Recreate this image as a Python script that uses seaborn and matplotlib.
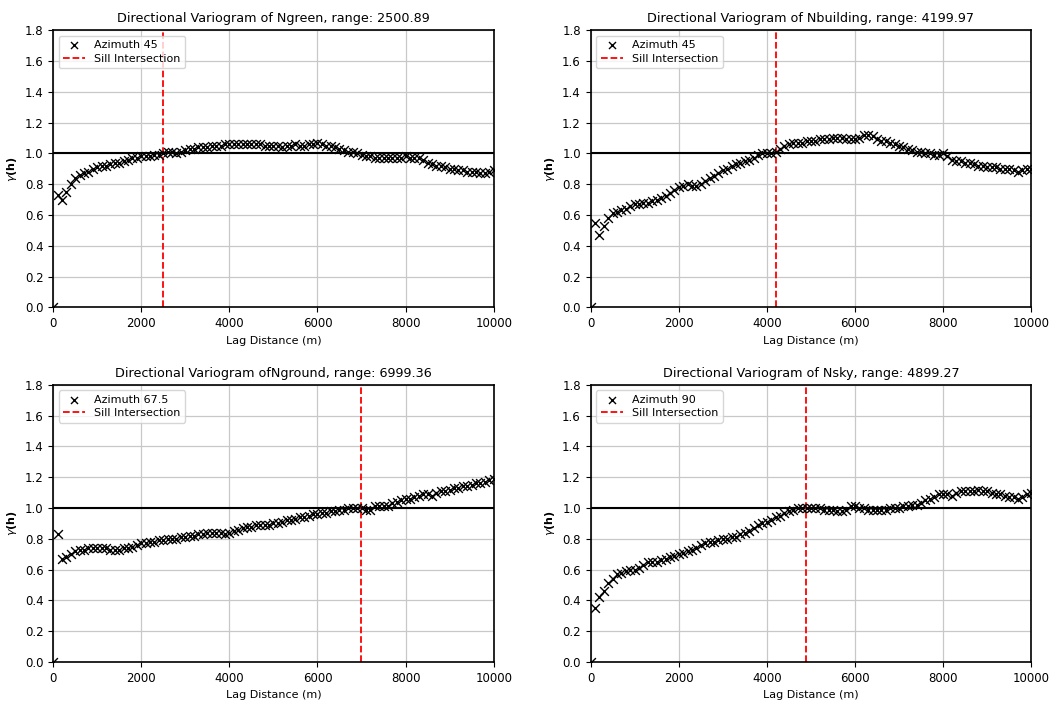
import matplotlib
matplotlib.use("Agg")
import matplotlib.pyplot as plt
import seaborn as sns
import numpy as np
import pandas as pd

# lag bins (m), one every 100 m
lags = list(range(0, 10001, 100))

gamma_green = [
    0.00, 0.73, 0.70, 0.75, 0.80, 0.84, 0.86, 0.87, 0.88, 0.90, 0.91,
    0.92, 0.92, 0.93, 0.94, 0.94, 0.95, 0.96, 0.97, 0.97, 0.98,
    0.98, 0.98, 0.99, 0.99, 1.00, 1.01, 1.01, 1.00, 1.01, 1.02,
    1.03, 1.03, 1.04, 1.04, 1.04, 1.05, 1.05, 1.05, 1.06, 1.06,
    1.06, 1.06, 1.06, 1.06, 1.06, 1.06, 1.06, 1.05, 1.05, 1.05,
    1.05, 1.04, 1.05, 1.05, 1.06, 1.05, 1.05, 1.06, 1.06, 1.07,
    1.06, 1.05, 1.05, 1.04, 1.03, 1.02, 1.01, 1.01, 1.00, 0.99,
    0.98, 0.98, 0.97, 0.97, 0.97, 0.97, 0.97, 0.97, 0.97, 0.98,
    0.97, 0.97, 0.97, 0.96, 0.94, 0.93, 0.92, 0.92, 0.91, 0.90,
    0.90, 0.89, 0.89, 0.88, 0.88, 0.88, 0.87, 0.87, 0.88, 0.89,
]

gamma_building = [
    0.00, 0.55, 0.47, 0.53, 0.58, 0.61, 0.62, 0.63, 0.64, 0.66, 0.67,
    0.67, 0.68, 0.68, 0.69, 0.70, 0.71, 0.72, 0.74, 0.76, 0.78,
    0.79, 0.80, 0.79, 0.79, 0.80, 0.82, 0.84, 0.85, 0.87, 0.89,
    0.90, 0.92, 0.93, 0.94, 0.95, 0.96, 0.97, 0.99, 1.00, 1.00,
    1.00, 1.01, 1.03, 1.05, 1.06, 1.07, 1.07, 1.07, 1.08, 1.08,
    1.08, 1.09, 1.09, 1.09, 1.10, 1.10, 1.10, 1.09, 1.09, 1.09,
    1.10, 1.12, 1.12, 1.11, 1.09, 1.08, 1.08, 1.07, 1.06, 1.05,
    1.04, 1.03, 1.02, 1.01, 1.01, 1.00, 1.00, 0.99, 0.99, 1.00,
    0.98, 0.96, 0.95, 0.95, 0.94, 0.94, 0.93, 0.92, 0.92, 0.91,
    0.91, 0.91, 0.90, 0.90, 0.90, 0.89, 0.88, 0.89, 0.90, 0.90,
]

gamma_ground = [
    0.00, 0.83, 0.67, 0.68, 0.70, 0.72, 0.73, 0.73, 0.74, 0.74, 0.74,
    0.74, 0.74, 0.73, 0.73, 0.73, 0.74, 0.74, 0.75, 0.76, 0.77,
    0.77, 0.78, 0.78, 0.79, 0.79, 0.80, 0.80, 0.80, 0.81, 0.81,
    0.82, 0.82, 0.83, 0.83, 0.84, 0.84, 0.84, 0.84, 0.83, 0.84,
    0.85, 0.86, 0.87, 0.88, 0.88, 0.89, 0.89, 0.89, 0.89, 0.90,
    0.90, 0.91, 0.92, 0.92, 0.93, 0.94, 0.94, 0.95, 0.96, 0.96,
    0.97, 0.97, 0.98, 0.98, 0.99, 0.99, 1.00, 1.00, 1.00, 1.00,
    0.99, 0.99, 1.01, 1.01, 1.01, 1.01, 1.03, 1.04, 1.05, 1.06,
    1.06, 1.07, 1.08, 1.09, 1.09, 1.08, 1.10, 1.11, 1.11, 1.12,
    1.13, 1.13, 1.14, 1.14, 1.15, 1.16, 1.16, 1.17, 1.18, 1.19,
]

gamma_sky = [
    0.00, 0.35, 0.42, 0.46, 0.51, 0.54, 0.57, 0.58, 0.59, 0.60, 0.60,
    0.61, 0.63, 0.65, 0.65, 0.65, 0.66, 0.67, 0.68, 0.69, 0.70,
    0.71, 0.72, 0.73, 0.74, 0.76, 0.77, 0.78, 0.78, 0.79, 0.80,
    0.80, 0.81, 0.81, 0.83, 0.84, 0.85, 0.87, 0.89, 0.90, 0.91,
    0.92, 0.94, 0.95, 0.97, 0.98, 0.99, 1.00, 1.00, 1.00, 1.00,
    1.00, 1.00, 0.99, 0.99, 0.99, 0.98, 0.98, 0.99, 1.01, 1.01,
    1.00, 1.00, 0.99, 0.99, 0.99, 0.99, 0.99, 1.00, 1.00, 1.00,
    1.01, 1.01, 1.02, 1.02, 1.03, 1.05, 1.06, 1.07, 1.09, 1.09,
    1.09, 1.08, 1.10, 1.11, 1.11, 1.11, 1.11, 1.12, 1.11, 1.11,
    1.10, 1.09, 1.09, 1.08, 1.07, 1.07, 1.06, 1.07, 1.09, 1.10,
]

titles = [
    "Directional Variogram of Ngreen, range: 2500.89",
    "Directional Variogram of Nbuilding, range: 4199.97",
    "Directional Variogram ofNground, range: 6999.36",
    "Directional Variogram of Nsky, range: 4899.27",
]
azimuths = ["45", "45", "67.5", "90"]
ranges = [2500.89, 4199.97, 6999.36, 4899.27]
series = [gamma_green, gamma_building, gamma_ground, gamma_sky]
sill = 1.0

fig, axes = plt.subplots(2, 2, figsize=(10.62, 7.02), dpi=100)
axes = axes.flatten()

for ax, title, az, rng, gam in zip(axes, titles, azimuths, ranges, series):
    df = pd.DataFrame({'lag': lags, 'gamma': gam})
    sns.scatterplot(data=df, x='lag', y='gamma', marker='x', color='black',
                    s=40, linewidth=1.0, label=f"Azimuth {az}", ax=ax, zorder=3)
    ax.axhline(sill, color='black', linewidth=1.5, zorder=2)
    ax.axvline(rng, color='red', linestyle='--', linewidth=1.3,
               label='Sill Intersection', zorder=2)
    ax.set_xlim(0, 10000)
    ax.set_ylim(0, 1.8)
    ax.set_yticks(np.arange(0, 1.81, 0.2))
    ax.set_title(title, fontsize=9.2)
    ax.set_xlabel('Lag Distance (m)', fontsize=8)
    ax.set_ylabel(r'$\gamma$(h)', fontsize=8, fontweight='bold')
    ax.tick_params(labelsize=8.5)
    ax.grid(True, color='#c8c8c8', linewidth=0.9)
    ax.set_axisbelow(True)
    for sp in ax.spines.values():
        sp.set_linewidth(1.2)
    ax.legend(loc='upper left', fontsize=8, markerscale=0.8,
              handlelength=2.0, borderpad=0.4, labelspacing=0.3)

plt.subplots_adjust(left=0.05, right=0.971, top=0.957, bottom=0.057,
                    wspace=0.22, hspace=0.28)
plt.savefig('out.png', dpi=100)
